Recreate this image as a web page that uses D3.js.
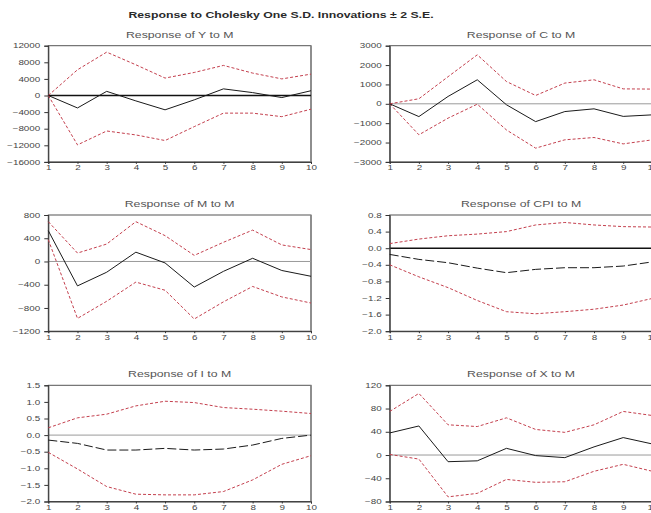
<!DOCTYPE html>
<html>
<head>
<meta charset="utf-8">
<script src="https://cdn.jsdelivr.net/npm/d3@7"></script>
<style>
  html, body { margin: 0; padding: 0; background: #fff; overflow: hidden; }
  svg { display: block; font-family: "Liberation Sans", Arial, sans-serif; }
</style>
</head>
<body>
<svg id="chart" width="651" height="513"></svg>
<script>
// Forecast horizon (periods)
const periods = [1, 2, 3, 4, 5, 6, 7, 8, 9, 10];

// Response of Y to M
const yResp  = [0, -3000, 1000, -1300, -3450, -1050, 1600, 700, -500, 1150];
const yUpper = [0, 6200, 10450, 7400, 4200, 5550, 7250, 5400, 4000, 5150];
const yLower = [0, -11900, -8550, -9500, -10850, -7500, -4250, -4250, -5100, -3300];
const yTicks = [12000, 8000, 4000, 0, -4000, -8000, -12000, -16000];

// Response of C to M
const cResp  = [0, -660, 380, 1240, -50, -920, -400, -260, -650, -570];
const cUpper = [0, 260, 1400, 2530, 1150, 430, 1070, 1240, 770, 760];
const cLower = [0, -1600, -740, -20, -1350, -2290, -1860, -1740, -2070, -1860];
const cTicks = [3000, 2000, 1000, 0, -1000, -2000, -3000];

// Response of M to M
const mResp  = [530, -420, -185, 160, -25, -440, -170, 55, -155, -255];
const mUpper = [685, 145, 300, 685, 445, 105, 330, 540, 285, 205];
const mLower = [375, -980, -685, -355, -495, -990, -695, -430, -610, -715];
const mTicks = [800, 400, 0, -400, -800, -1200];

// Response of CPI to M
const cpiResp  = [-0.15, -0.27, -0.35, -0.48, -0.59, -0.51, -0.47, -0.47, -0.43, -0.33];
const cpiUpper = [0.11, 0.22, 0.30, 0.34, 0.40, 0.56, 0.62, 0.56, 0.52, 0.51];
const cpiLower = [-0.40, -0.69, -0.95, -1.26, -1.53, -1.58, -1.53, -1.47, -1.37, -1.21];
const cpiTicks = [0.8, 0.4, 0.0, -0.4, -0.8, -1.2, -1.6, -2.0];

// Response of I to M
const iResp  = [-0.15, -0.25, -0.45, -0.45, -0.40, -0.45, -0.42, -0.30, -0.10, 0.0];
const iUpper = [0.22, 0.52, 0.63, 0.88, 1.02, 0.98, 0.83, 0.78, 0.72, 0.65];
const iLower = [-0.52, -1.02, -1.55, -1.78, -1.80, -1.80, -1.70, -1.35, -0.88, -0.62];
const iTicks = [1.5, 1.0, 0.5, 0.0, -0.5, -1.0, -1.5, -2.0];

// Response of X to M
const xResp  = [38, 50, -11.5, -10, 11.5, -1, -4.5, 14, 30, 19];
const xUpper = [75, 106, 52, 49, 64, 44, 39, 52, 75, 68];
const xLower = [1, -7, -72, -66, -42, -47, -46, -28, -16, -28];
const xTicks = [120, 80, 40, 0, -40, -80];

const panelTitles = ["Response of Y to M", "Response of C to M", "Response of M to M",
                     "Response of CPI to M", "Response of I to M", "Response of X to M"];
const mainTitle = "Response to Cholesky One S.D. Innovations \u00b1 2 S.E.";

const panels = [
  { title: panelTitles[0], resp: yResp,   up: yUpper,   lo: yLower,   ticks: yTicks,   fmt: d3.format("d"),   col: 0, row: 0, zeroBold: true,  dashed: false },
  { title: panelTitles[1], resp: cResp,   up: cUpper,   lo: cLower,   ticks: cTicks,   fmt: d3.format("d"),   col: 1, row: 0, zeroBold: false, dashed: false },
  { title: panelTitles[2], resp: mResp,   up: mUpper,   lo: mLower,   ticks: mTicks,   fmt: d3.format("d"),   col: 0, row: 1, zeroBold: false, dashed: false },
  { title: panelTitles[3], resp: cpiResp, up: cpiUpper, lo: cpiLower, ticks: cpiTicks, fmt: d3.format(".1f"), col: 1, row: 1, zeroBold: true,  dashed: true },
  { title: panelTitles[4], resp: iResp,   up: iUpper,   lo: iLower,   ticks: iTicks,   fmt: d3.format(".1f"), col: 0, row: 2, zeroBold: false, dashed: true },
  { title: panelTitles[5], resp: xResp,   up: xUpper,   lo: xLower,   ticks: xTicks,   fmt: d3.format("d"),   col: 1, row: 2, zeroBold: false, dashed: false }
];

const svg = d3.select("#chart");
const SX = 1.45;                    // horizontal stretch of the lettering
const colLeft = [48.3, 389.7];
const plotW = 262.7;
const rowTop = [45.7, 215, 385.3];
const plotH = 116.2;
const bandColor = "#c4404e";

svg.append("text")
  .attr("transform", `translate(281,17.5) scale(1.32,1)`)
  .attr("text-anchor", "middle")
  .attr("font-size", 9.3)
  .attr("font-weight", "bold")
  .attr("fill", "#2a2a2a")
  .text(mainTitle);

panels.forEach(p => {
  const x0 = colLeft[p.col], y0 = rowTop[p.row];
  const g = svg.append("g").attr("transform", `translate(${x0},${y0})`);

  const x = d3.scaleLinear().domain([1, 10]).range([0, plotW]);
  const y = d3.scaleLinear().domain([d3.min(p.ticks), d3.max(p.ticks)]).range([plotH, 0]);

  // title
  svg.append("text")
    .attr("transform", `translate(${x0 + plotW / 2},${y0 - 8}) scale(1.5,1)`)
    .attr("text-anchor", "middle")
    .attr("font-size", 8.2)
    .attr("fill", "#555")
    .text(p.title);

  // frame
  g.append("rect").attr("x", 0).attr("y", 0).attr("width", plotW).attr("height", plotH)
    .attr("fill", "none").attr("stroke", "#555").attr("stroke-width", 1);
  g.append("line").attr("x1", plotW).attr("x2", plotW).attr("y1", 0).attr("y2", plotH)
    .attr("stroke", "#888").attr("stroke-width", 1.6);

  // zero reference
  g.append("line").attr("x1", 0).attr("x2", plotW).attr("y1", y(0)).attr("y2", y(0))
    .attr("stroke", p.zeroBold ? "#111" : "#9a9a9a")
    .attr("stroke-width", p.zeroBold ? 1.5 : 1);

  // axes
  const ya = g.append("g").call(d3.axisLeft(y).tickValues(p.ticks).tickFormat(p.fmt).tickSize(4).tickPadding(4));
  ya.select(".domain").attr("stroke", "#333");
  ya.selectAll(".tick line").attr("stroke", "#333");
  ya.selectAll(".tick text")
    .attr("x", 0)
    .attr("transform", `translate(-8,0) scale(${SX},1)`)
    .attr("font-size", 6.8)
    .attr("font-family", "Liberation Sans, Arial, sans-serif")
    .attr("fill", "#444");

  const xa = g.append("g").attr("transform", `translate(0,${plotH})`)
    .call(d3.axisBottom(x).tickValues(periods).tickFormat(d3.format("d")).tickSize(2).tickPadding(1.5));
  xa.select(".domain").attr("stroke", "#333");
  xa.selectAll(".tick line").attr("stroke", "#333");
  xa.selectAll(".tick text")
    .attr("transform", `scale(${SX},1)`)
    .attr("font-size", 6.8)
    .attr("font-family", "Liberation Sans, Arial, sans-serif")
    .attr("fill", "#444");

  const line = d3.line().x((d, i) => x(periods[i])).y(d => y(d));

  // ±2 S.E. bands
  [p.up, p.lo].forEach(s => {
    g.append("path").datum(s).attr("d", line)
      .attr("fill", "none").attr("stroke", bandColor).attr("stroke-width", 1)
      .attr("stroke-dasharray", "3,2");
  });

  // impulse response
  g.append("path").datum(p.resp).attr("d", line)
    .attr("fill", "none").attr("stroke", "#1a1a1a").attr("stroke-width", 1)
    .attr("stroke-dasharray", p.dashed ? "9,3" : null);
});
</script>
</body>
</html>
